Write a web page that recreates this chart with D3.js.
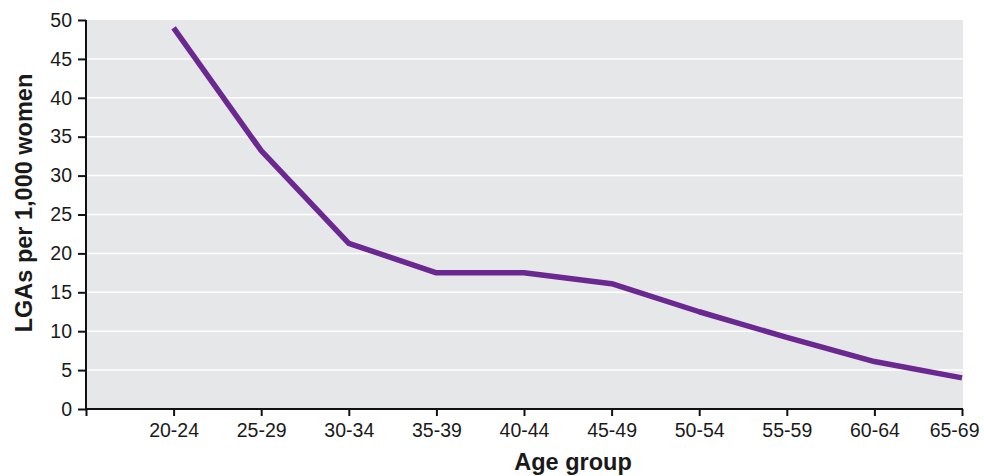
<!DOCTYPE html>
<html>
<head>
<meta charset="utf-8">
<script src="https://cdn.jsdelivr.net/npm/d3@7"></script>
<style>
  body { margin: 0; background: #fff; }
  svg text { font-family: "Liberation Sans", Arial, sans-serif; fill: #1a1a1a; }
</style>
</head>
<body>
<svg id="chart" width="984" height="476"></svg>
<script>
// data
const ageGroups = ["", "20-24", "25-29", "30-34", "35-39", "40-44", "45-49", "50-54", "55-59", "60-64", "65-69"];
const lgaRates = [null, 49.0, 33.2, 21.3, 17.5, 17.5, 16.1, 12.5, 9.2, 6.1, 4.0];
const yTicks = [0, 5, 10, 15, 20, 25, 30, 35, 40, 45, 50];

const svg = d3.select("#chart");
const plotL = 86, plotR = 962, plotT = 20, plotB = 409;

const x = d3.scalePoint()
    .domain(ageGroups.map((d, i) => i))
    .range([plotL, plotR]);
const y = d3.scaleLinear()
    .domain([0, 50])
    .range([plotB, plotT]);

// grey plot area
svg.append("rect")
    .attr("x", plotL)
    .attr("y", plotT)
    .attr("width", plotR - plotL + 1)
    .attr("height", plotB - plotT)
    .attr("fill", "#e6e7e8");

// white gridlines
svg.selectAll("line.grid")
    .data(yTicks.filter(d => d > 0 && d < 50))
    .enter()
    .append("line")
    .attr("class", "grid")
    .attr("x1", plotL)
    .attr("x2", plotR + 1)
    .attr("y1", d => y(d))
    .attr("y2", d => y(d))
    .attr("stroke", "#fff")
    .attr("stroke-width", 1.5);

// the line
const pts = lgaRates.map((v, i) => ({i, v})).filter(d => d.v !== null);
const line = d3.line()
    .x(d => x(d.i))
    .y(d => y(d.v));
svg.append("path")
    .datum(pts)
    .attr("d", line)
    .attr("fill", "none")
    .attr("stroke", "#6a2890")
    .attr("stroke-width", 5.5)
    .attr("stroke-linejoin", "round");

// axes
const yAxis = d3.axisLeft(y).tickValues(yTicks).tickSize(8).tickPadding(6);
const gy = svg.append("g")
    .attr("transform", `translate(${plotL},0)`)
    .call(yAxis);
gy.select(".domain").attr("d", `M0,${plotT}V${plotB + 1}`);

const xAxis = d3.axisBottom(x).tickFormat(i => ageGroups[i]).tickSize(7).tickPadding(7);
const gx = svg.append("g")
    .attr("transform", `translate(0,${plotB})`)
    .call(xAxis);
gx.select(".domain").attr("d", `M${plotL},0H${plotR + 1}`);

svg.selectAll(".domain, .tick line")
    .attr("stroke", "#111")
    .attr("stroke-width", 2);
svg.selectAll(".tick text")
    .attr("font-size", 19.5)
    .attr("fill", "#1a1a1a");

// last label sits a bit left so it stays inside the frame
gx.selectAll(".tick text")
    .filter(i => i === ageGroups.length - 1)
    .attr("text-anchor", "end")
    .attr("x", 17);

// axis titles
svg.append("text")
    .attr("x", 573)
    .attr("y", 470)
    .attr("text-anchor", "middle")
    .attr("font-size", 23.5)
    .attr("font-weight", "bold")
    .text("Age group");

svg.append("text")
    .attr("transform", "translate(32,203) rotate(-90)")
    .attr("text-anchor", "middle")
    .attr("font-size", 23.5)
    .attr("font-weight", "bold")
    .text("LGAs per 1,000 women");
</script>
</body>
</html>
